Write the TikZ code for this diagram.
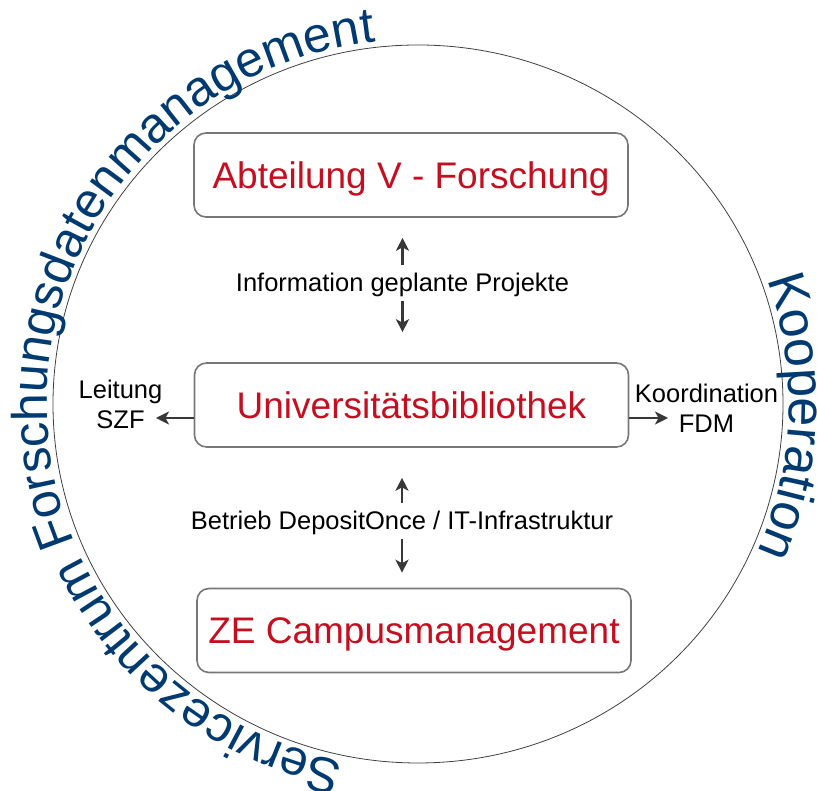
\documentclass[tikz,border=0pt]{standalone}
\usepackage{fontspec}
\setmainfont{Liberation Sans}
\usetikzlibrary{arrows.meta,decorations.text}
\definecolor{tured}{HTML}{C50E1F}
\definecolor{tublue}{HTML}{003A70}
\definecolor{boxgray}{HTML}{777777}
\definecolor{arrgray}{HTML}{383838}
\newcommand\ringfont{\fontsize{50}{60}\selectfont}
\newcommand\koopfont{\fontsize{52}{60}\selectfont}

\begin{document}
\begin{tikzpicture}[x=1pt,y=1pt,
  unit/.style={draw=boxgray,line width=1.6pt,rounded corners=12pt,minimum width=434pt,minimum height=84pt,
    text height=26.5pt,text depth=0pt,font=\fontsize{37}{44}\selectfont,text=tured},
  flow/.style={inner xsep=0pt,inner ysep=8.5pt,text height=18pt,text depth=0pt,font=\fontsize{25.5}{30}\selectfont},
  side/.style={inner sep=0pt,align=center,font=\fontsize{25.5}{30.5}\selectfont},
  arr/.style={draw=arrgray,line width=2.2pt,-{Stealth[length=13pt,width=13pt,inset=3.5pt]}}]
\useasboundingbox (0,0) rectangle (817,791);
\coordinate (C) at (418,387);
\draw[line width=0.8pt,draw=black!75] (C) ellipse [x radius=365,y radius=359];

% ring labels
\path[decorate,decoration={text along path,text color=tublue,
    text={|\ringfont|Servicezentrum Forschungsdatenmanagement}}]
  ([shift={(258.5:371 and 365)}]C) arc[start angle=258.5,end angle=60,x radius=371,y radius=365];
\path[decorate,decoration={text along path,text color=tublue,text={|\koopfont|Kooperation}}]
  ([shift={(20:371 and 365)}]C) arc[start angle=20,end angle=-60,x radius=371,y radius=365];

% units
\node[unit] (abt) at (411,616) {Abteilung V - Forschung};
\node[unit] (ub) at (411.5,386) {Universitätsbibliothek};
\node[unit] (ze) at (414,160.5) {ZE Campusmanagement};

% flows
\node[flow] (info) at (402.5,508) {Information geplante Projekte};
\node[flow] (dep) at (402,270) {Betrieb DepositOnce / IT-Infrastruktur};
\draw[arr,shorten >=20pt] (info.north) -- (info.north |- abt.south);
\draw[arr,shorten >=30pt] (info.south) -- (info.south |- ub.north);
\draw[arr,shorten >=30pt] (dep.north) -- (dep.north |- ub.south);
\draw[arr,shorten >=15pt] (dep.south) -- (dep.south |- ze.north);

% sides
\node[side] (szf) at (120.5,386.7) {Leitung\\SZF};
\node[side] (fdm) at (706.5,382.7) {Koordination\\FDM};
\coordinate (szfend) at (156,373);
\coordinate (fdmend) at (668,373);
\draw[arr] (ub.west |- szfend) -- (szfend);
\draw[arr] (ub.east |- fdmend) -- (fdmend);
\end{tikzpicture}
\end{document}
